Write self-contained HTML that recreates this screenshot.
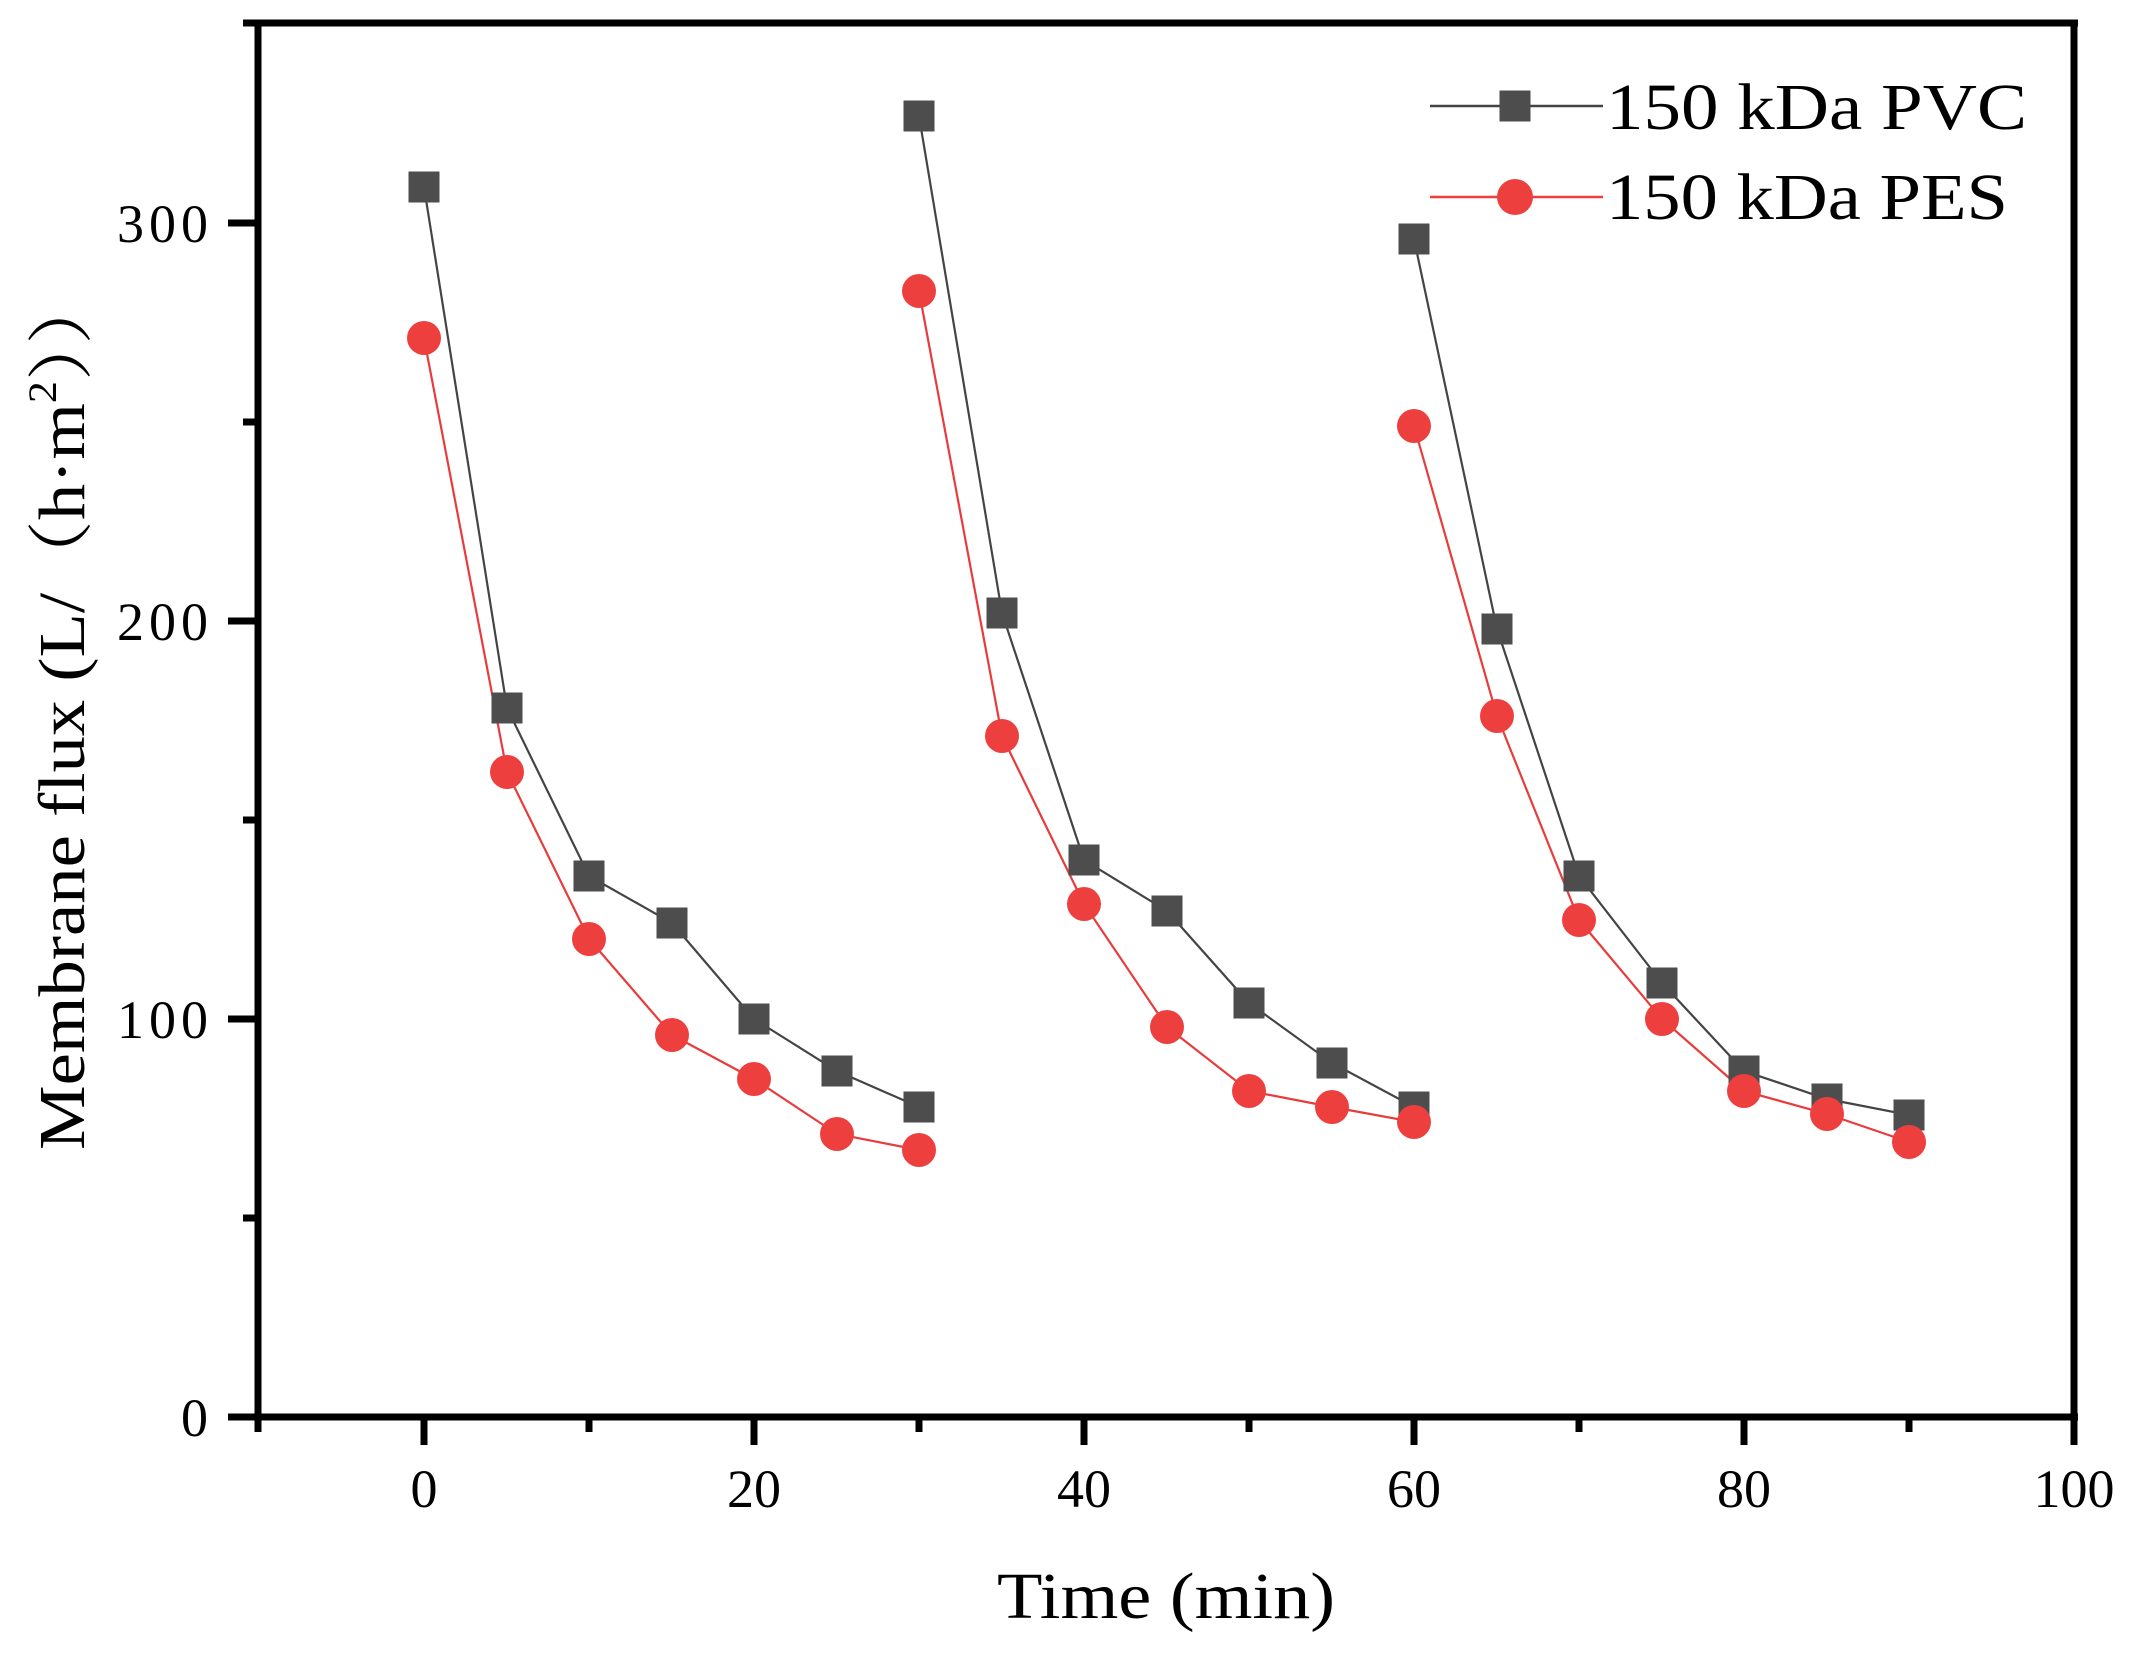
<!DOCTYPE html>
<html><head><meta charset="utf-8"><style>html,body{margin:0;padding:0;background:#fff}svg{display:block}text{font-family:"Liberation Serif","Noto Serif CJK SC",serif}</style></head>
<body>
<svg width="2134" height="1654" viewBox="0 0 2134 1654" xmlns="http://www.w3.org/2000/svg">
<g stroke="#000" stroke-width="7" fill="none">
<line x1="258" y1="20" x2="258" y2="1421"/>
<line x1="243" y1="23" x2="2078" y2="23"/>
<line x1="2074" y1="20" x2="2074" y2="1421"/>
<line x1="228" y1="1417" x2="2078" y2="1417"/>
<line x1="258" y1="1417" x2="258" y2="1432"/>
<line x1="424" y1="1417" x2="424" y2="1445"/>
<line x1="589" y1="1417" x2="589" y2="1432"/>
<line x1="754" y1="1417" x2="754" y2="1445"/>
<line x1="919" y1="1417" x2="919" y2="1432"/>
<line x1="1084" y1="1417" x2="1084" y2="1445"/>
<line x1="1249" y1="1417" x2="1249" y2="1432"/>
<line x1="1414" y1="1417" x2="1414" y2="1445"/>
<line x1="1579" y1="1417" x2="1579" y2="1432"/>
<line x1="1744" y1="1417" x2="1744" y2="1445"/>
<line x1="1909" y1="1417" x2="1909" y2="1432"/>
<line x1="2074" y1="1417" x2="2074" y2="1445"/>
<line x1="228" y1="1019" x2="258" y2="1019"/>
<line x1="228" y1="621" x2="258" y2="621"/>
<line x1="228" y1="223" x2="258" y2="223"/>
<line x1="243" y1="1218" x2="258" y2="1218"/>
<line x1="243" y1="820" x2="258" y2="820"/>
<line x1="243" y1="422" x2="258" y2="422"/>
</g>
<g font-size="54" fill="#000" text-anchor="end">
<text x="208" y="1436">0</text>
<text x="208" y="1038" textLength="91">100</text>
<text x="208" y="640" textLength="91">200</text>
<text x="208" y="242" textLength="91">300</text>
</g>
<g font-size="54" fill="#000" text-anchor="middle">
<text x="424" y="1507">0</text>
<text x="754" y="1507">20</text>
<text x="1084" y="1507">40</text>
<text x="1414" y="1507">60</text>
<text x="1744" y="1507">80</text>
<text x="2074" y="1507">100</text>
</g>
<text x="1166" y="1618" font-size="66" text-anchor="middle" textLength="338" lengthAdjust="spacingAndGlyphs">Time (min)</text>
<text transform="translate(84,1150) rotate(-90)" font-size="66" textLength="878" lengthAdjust="spacingAndGlyphs">Membrane flux (L/（h·m<tspan font-size="40" dy="-28">2</tspan><tspan dy="28">））</tspan></text>

<g fill="none" stroke-width="2.2">
<polyline stroke="#444" points="424,187 507,708 589,876 672,923 754,1019 837,1071 919,1107"/>
<polyline stroke="#444" points="919,116 1002,613 1084,860 1167,911 1249,1003 1332,1063 1414,1107"/>
<polyline stroke="#444" points="1414,239 1497,629 1579,876 1662,983 1744,1071 1827,1099 1909,1115"/>
<polyline stroke="#e83c3c" points="424,338 507,772 589,939 672,1035 754,1079 837,1134 919,1150"/>
<polyline stroke="#e83c3c" points="919,291 1002,736 1084,904 1167,1027 1249,1091 1332,1107 1414,1122"/>
<polyline stroke="#e83c3c" points="1414,426 1497,716 1579,920 1662,1019 1744,1091 1827,1114 1909,1142"/>
</g>
<g fill="#4d4d4d">
<rect x="408.5" y="171.5" width="31" height="31"/><rect x="491.5" y="692.5" width="31" height="31"/><rect x="573.5" y="860.5" width="31" height="31"/><rect x="656.5" y="907.5" width="31" height="31"/><rect x="738.5" y="1003.5" width="31" height="31"/><rect x="821.5" y="1055.5" width="31" height="31"/><rect x="903.5" y="1091.5" width="31" height="31"/>
<rect x="903.5" y="100.5" width="31" height="31"/><rect x="986.5" y="597.5" width="31" height="31"/><rect x="1068.5" y="844.5" width="31" height="31"/><rect x="1151.5" y="895.5" width="31" height="31"/><rect x="1233.5" y="987.5" width="31" height="31"/><rect x="1316.5" y="1047.5" width="31" height="31"/><rect x="1398.5" y="1091.5" width="31" height="31"/>
<rect x="1398.5" y="223.5" width="31" height="31"/><rect x="1481.5" y="613.5" width="31" height="31"/><rect x="1563.5" y="860.5" width="31" height="31"/><rect x="1646.5" y="967.5" width="31" height="31"/><rect x="1728.5" y="1055.5" width="31" height="31"/><rect x="1811.5" y="1083.5" width="31" height="31"/><rect x="1893.5" y="1099.5" width="31" height="31"/>
</g>
<g fill="#ee3f3f">
<circle cx="424" cy="338" r="17"/><circle cx="507" cy="772" r="17"/><circle cx="589" cy="939" r="17"/><circle cx="672" cy="1035" r="17"/><circle cx="754" cy="1079" r="17"/><circle cx="837" cy="1134" r="17"/><circle cx="919" cy="1150" r="17"/>
<circle cx="919" cy="291" r="17"/><circle cx="1002" cy="736" r="17"/><circle cx="1084" cy="904" r="17"/><circle cx="1167" cy="1027" r="17"/><circle cx="1249" cy="1091" r="17"/><circle cx="1332" cy="1107" r="17"/><circle cx="1414" cy="1122" r="17"/>
<circle cx="1414" cy="426" r="17"/><circle cx="1497" cy="716" r="17"/><circle cx="1579" cy="920" r="17"/><circle cx="1662" cy="1019" r="17"/><circle cx="1744" cy="1091" r="17"/><circle cx="1827" cy="1114" r="17"/><circle cx="1909" cy="1142" r="17"/>
</g>
<line x1="1430" y1="106" x2="1603" y2="106" stroke="#444" stroke-width="2.5"/>
<rect x="1499.5" y="90.5" width="31" height="31" fill="#4d4d4d"/>
<line x1="1430" y1="197" x2="1603" y2="197" stroke="#ee3f3f" stroke-width="2.5"/>
<circle cx="1515" cy="197" r="18" fill="#ee3f3f"/>
<text x="1606" y="129" font-size="66" textLength="421" lengthAdjust="spacingAndGlyphs">150 kDa PVC</text>
<text x="1606" y="219" font-size="66" textLength="402" lengthAdjust="spacingAndGlyphs">150 kDa PES</text>
</svg>
</body></html>
